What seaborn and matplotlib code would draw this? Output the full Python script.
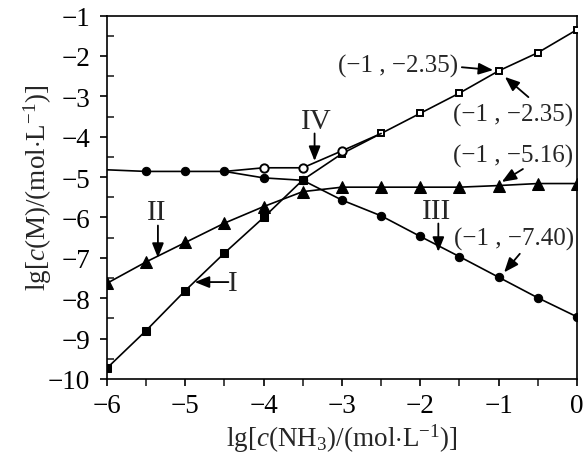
import matplotlib
matplotlib.use("Agg")
import matplotlib.pyplot as plt
import seaborn as sns
import pandas as pd

# data
x = [-6, -5.5, -5, -4.5, -4, -3.5, -3, -2.5, -2, -1.5, -1, -0.5, 0]
y_I = [-9.73, -8.80, -7.81, -6.88, -6.00, -5.07, -4.42, -3.92, -3.42, -2.92, -2.37, -1.92, -1.35]
y_II = [-7.63, -7.10, -6.62, -6.14, -5.73, -5.36, -5.25, -5.25, -5.25, -5.25, -5.21, -5.16, -5.16]
y_III = [-4.82, -4.86, -4.86, -4.86, -5.02, -5.08, -5.57, -5.96, -6.47, -6.97, -7.48, -7.99, -8.46]
x_IV = [-4.5, -4, -3.5, -3, -2.5]
y_IV = [-4.86, -4.77, -4.77, -4.35, -3.92]

n_filled = 6  # squares of curve I that are filled (x <= -3.5)

sns.set_style("ticks")
plt.rcParams["font.family"] = ["Liberation Serif", "DejaVu Serif"]
plt.rcParams["mathtext.fontset"] = "custom"
plt.rcParams["mathtext.rm"] = "Liberation Serif"
plt.rcParams["mathtext.it"] = "Liberation Serif:italic"

df = pd.DataFrame({"x": x, "I": y_I, "II": y_II, "III": y_III})
df_iv = pd.DataFrame({"x": x_IV, "IV": y_IV})

fig = plt.figure(figsize=(5.86, 4.56), dpi=100)
ax = fig.add_axes([0.1826, 0.1667, 0.802, 0.797])

lw = 1.2
# curve I: filled squares then open squares
sns.lineplot(data=df, x="x", y="I", ax=ax, color="k", lw=lw, marker="s", ms=6,
             mfc="k", mec="k", markevery=list(range(n_filled)), zorder=3)
sns.lineplot(data=df.iloc[n_filled:], x="x", y="I", ax=ax, color="k", lw=0, marker="s",
             ms=5, mfc="white", mec="k", mew=1.4, zorder=4)
# curve II: triangles
sns.lineplot(data=df, x="x", y="II", ax=ax, color="k", lw=lw, marker="^", ms=8.5,
             mfc="k", mec="k", zorder=3)
# curve III: filled circles (no marker at the left edge)
sns.lineplot(data=df, x="x", y="III", ax=ax, color="k", lw=lw, marker="o", ms=6,
             mfc="k", mec="k", markevery=list(range(1, len(x))), zorder=2)
# curve IV: open circles
sns.lineplot(data=df_iv, x="x", y="IV", ax=ax, color="k", lw=lw, marker="o", ms=6,
             mfc="white", mec="k", mew=1.4, markevery=[1, 2, 3], zorder=5)

ax.set_xlim(-6, 0)
ax.set_ylim(-10, -1)
ax.set_xticks(range(-6, 1))
ax.set_yticks(range(-10, 0))
ax.set_xticks([v + 0.5 for v in range(-6, 0)], minor=True)
ax.set_yticks([v + 0.5 for v in range(-10, -1)], minor=True)
ax.set_xticklabels(["\u22126", "\u22125", "\u22124", "\u22123", "\u22122", "\u22121", "0"])
ax.set_yticklabels(["\u221210", "\u22129", "\u22128", "\u22127", "\u22126", "\u22125",
                    "\u22124", "\u22123", "\u22122", "\u22121"])
ax.tick_params(axis="both", which="major", labelsize=19.5, width=1.2, length=5, color="k",
               labelcolor="k")
ax.tick_params(axis="x", which="major", pad=5)
ax.tick_params(axis="y", which="major", pad=7)
ax.tick_params(axis="x", which="minor", direction="out", length=5, width=1.2)
ax.tick_params(axis="y", which="minor", direction="in", length=5, width=1.2)
for s in ax.spines.values():
    s.set_linewidth(1.2)
    s.set_color("k")

ax.set_xlabel(r"lg[$\mathit{c}$(NH$_3$)/(mol$\cdot$L$^{-1}$)]", fontsize=19.5)
ax.set_ylabel(r"lg[$\mathit{c}$(M)/(mol$\cdot$L$^{-1}$)]", fontsize=19.5)
ax.xaxis.set_label_coords(0.5, -0.118)
ax.yaxis.set_label_coords(-0.112, 0.53)

arrow = dict(arrowstyle="-|>,head_length=0.55,head_width=0.22", color="k", lw=1.3,
             mutation_scale=16, shrinkA=0, shrinkB=0)
fs = 18
fr = 21

# curve labels
ax.text(-3.33, -3.62, "IV", fontsize=fr, ha="center", va="center")
ax.annotate("", xy=(-3.35, -4.6), xytext=(-3.35, -3.92), arrowprops=arrow)
ax.text(-5.37, -5.87, "II", fontsize=fr, ha="center", va="center")
ax.annotate("", xy=(-5.35, -7.0), xytext=(-5.35, -6.2), arrowprops=arrow)
ax.text(-1.79, -5.83, "III", fontsize=fr, ha="center", va="center")
ax.annotate("", xy=(-1.77, -6.85), xytext=(-1.77, -6.15), arrowprops=arrow)
ax.text(-4.45, -7.62, "I", fontsize=fr, ha="left", va="center")
ax.annotate("", xy=(-4.88, -7.6), xytext=(-4.45, -7.6), arrowprops=arrow)

# coordinate labels
ax.text(-2.28, -2.24, "(\u22121 , \u22122.35)", fontsize=fs, ha="center", va="center")
ax.annotate("", xy=(-1.07, -2.35), xytext=(-1.47, -2.28), arrowprops=arrow)
ax.text(-0.81, -3.44, "(\u22121 , \u22122.35)", fontsize=fs, ha="center", va="center")
ax.annotate("", xy=(-0.92, -2.52), xytext=(-0.62, -3.02), arrowprops=arrow)
ax.text(-0.81, -4.47, "(\u22121 , \u22125.16)", fontsize=fs, ha="center", va="center")
ax.annotate("", xy=(-0.96, -5.12), xytext=(-0.69, -4.80), arrowprops=arrow)
ax.text(-0.80, -6.53, "(\u22121 , \u22127.40)", fontsize=fs, ha="center", va="center")
ax.annotate("", xy=(-0.93, -7.36), xytext=(-0.73, -6.90), arrowprops=arrow)

fig.savefig("out.png", dpi=100)
